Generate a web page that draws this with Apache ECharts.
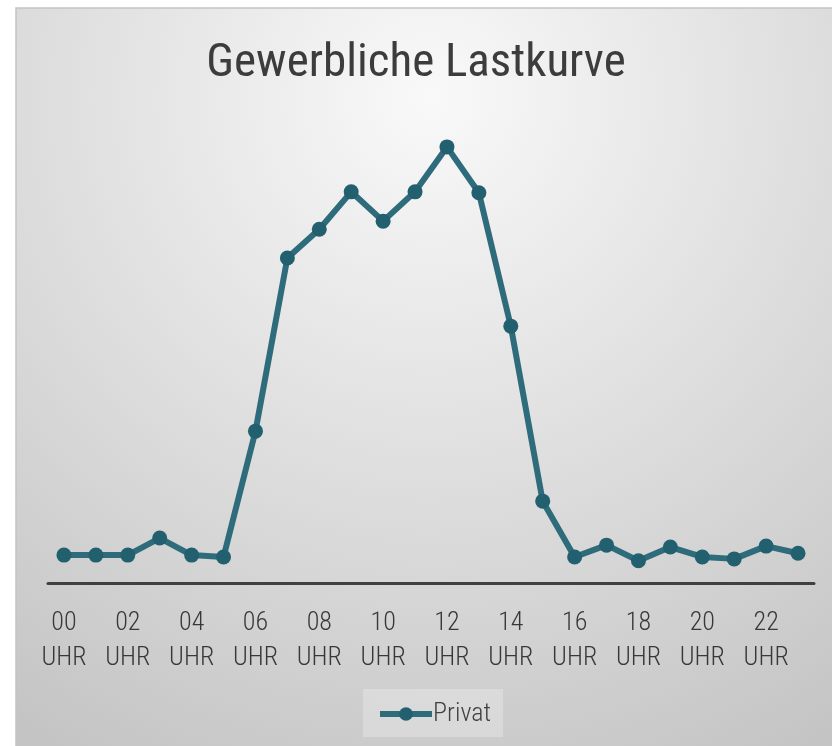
<!DOCTYPE html>
<html>
<head>
<meta charset="utf-8">
<script src="https://cdn.jsdelivr.net/npm/echarts@6/dist/echarts.min.js"></script>
<style>
html,body{margin:0;padding:0;background:#fff;}
#c{width:832px;height:746px;}
</style>
</head>
<body>
<div id="c"></div>
<script>
var hours = ['00','01','02','03','04','05','06','07','08','09','10','11','12','13','14','15','16','17','18','19','20','21','22','23'];
var privat = [5.9,5.9,5.9,9.5,5.9,5.5,32.1,68.7,74.8,82.7,76.5,82.7,92.2,82.5,54.3,17.3,5.5,8.0,4.7,7.6,5.5,5.1,7.8,6.3];
var titleText = 'Gewerbliche Lastkurve';
var seriesName = 'Privat';

var FONT = '"Roboto Condensed", "Liberation Sans Narrow", "DejaVu Sans Condensed", sans-serif';
var chart = echarts.init(document.getElementById('c'));
chart.setOption({
  animation: false,
  graphic: [{
    type: 'rect',
    z: -10,
    silent: true,
    shape: {x: 16, y: 8, width: 830, height: 750},
    style: {
      fill: new echarts.graphic.RadialGradient(0.5, 0.12, 1.0, [
        {offset: 0, color: '#f9f9f9'},
        {offset: 1, color: '#c4c4c4'}
      ]),
      stroke: '#c4c4c4',
      lineWidth: 1.5
    }
  }],
  title: {
    text: titleText,
    left: 'center',
    top: 36,
    textStyle: {fontFamily: FONT, fontSize: 47, fontWeight: 'normal', color: '#3c3c3c'}
  },
  legend: {
    bottom: 9,
    left: 363,
    data: [seriesName],
    itemWidth: 52,
    itemHeight: 17,
    itemGap: 4,
    padding: [12, 12, 10, 14],
    backgroundColor: 'rgba(255,255,255,0.25)',
    lineStyle: {width: 6},
    textStyle: {fontFamily: FONT, fontSize: 26, fontWeight: 300, color: '#404040', padding: [0,0,0,-4]}
  },
  grid: {left: 48, right: 18, top: 110, bottom: 163},
  xAxis: {
    type: 'category',
    data: hours,
    boundaryGap: true,
    axisLine: {lineStyle: {color: '#404040', width: 3}},
    axisTick: {show: false},
    axisLabel: {
      interval: 1,
      margin: 23,
      fontFamily: FONT,
      fontSize: 26,
      fontWeight: 300,
      lineHeight: 35,
      color: '#383838',
      formatter: function (v) { return v + '\nUHR'; }
    }
  },
  yAxis: {
    type: 'value',
    min: 0,
    max: 100,
    show: false,
    splitLine: {show: false}
  },
  series: [{
    name: seriesName,
    type: 'line',
    data: privat,
    symbol: 'circle',
    symbolSize: 15,
    lineStyle: {color: '#2f6c7b', width: 6},
    itemStyle: {color: '#22606f'}
  }]
});
</script>
</body>
</html>
